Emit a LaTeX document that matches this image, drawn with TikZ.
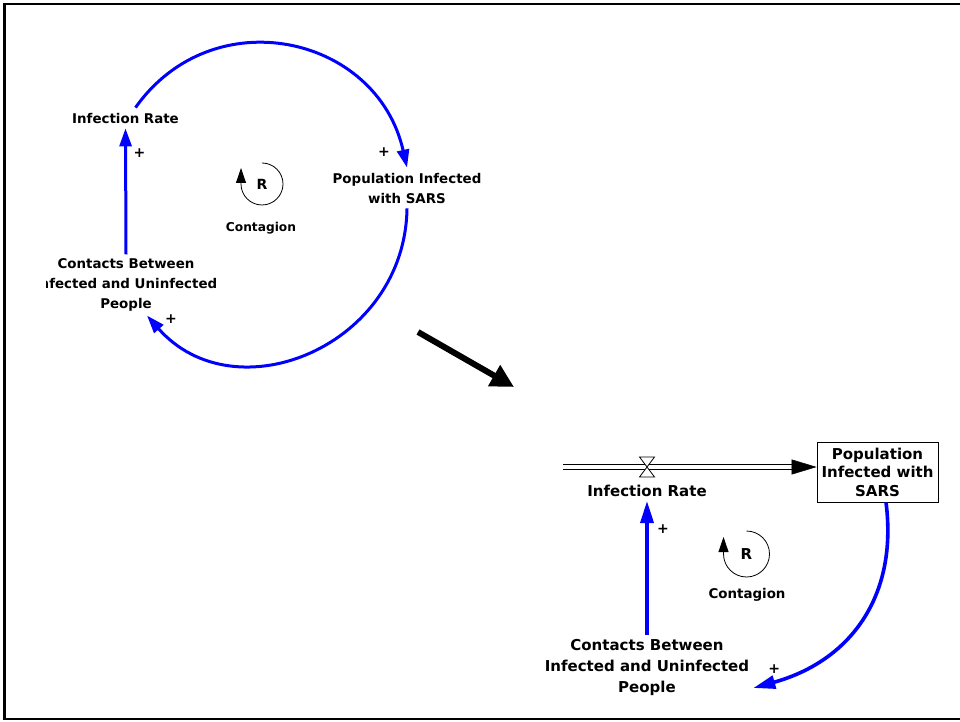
\documentclass[tikz,border=0pt]{standalone}
\usepackage{fontspec}
\setmainfont{DejaVu Sans}
\usetikzlibrary{arrows.meta}
\tikzstyle{sdVar} = [inner sep=4pt, align=center, font=\bfseries\fontsize{13.4}{20}\selectfont]
\tikzstyle{sdVarBig} = [inner sep=4pt, align=center, font=\bfseries\fontsize{15}{21}\selectfont]
\tikzstyle{sdStock} = [rectangle, draw=black, line width=0.8pt, minimum width=121pt, minimum height=60pt, inner sep=2pt, align=center, font=\bfseries\fontsize{15}{18.5}\selectfont]
\tikzstyle{sdLoopR} = [inner sep=0pt, font=\bfseries\fontsize{14}{16}\selectfont]
\tikzstyle{sdLoopName} = [inner sep=0pt, font=\bfseries\fontsize{12.2}{14}\selectfont]
\tikzstyle{sdSign} = [inner sep=0pt, text=black, font=\bfseries\fontsize{14}{14}\selectfont]
\tikzstyle{sdLink} = [blue, line width=3pt, -{Triangle[length=18pt,width=12pt]}]
\tikzstyle{sdLinkBig} = [blue, line width=3.6pt, -{Triangle[length=22pt,width=13pt]}]
\tikzstyle{sdLoop} = [black, line width=0.8pt, -{Triangle[length=15pt,width=10pt]}]
\tikzstyle{sdPipe} = [double, double distance=3.7pt, line width=1pt]
\tikzstyle{sdPipeHead} = [line width=0.5pt, -{Triangle[length=25pt,width=15pt]}]
\tikzstyle{sdValve} = [draw=black, fill=white, line width=0.8pt]
\tikzstyle{sdShift} = [line width=6pt, -{Triangle[length=23pt,width=23pt]}]

\begin{document}
\begin{tikzpicture}[x=1pt, y=1pt]
    \useasboundingbox (0,0) rectangle (960,721);
    \draw [line width=2.5pt] (962,717) -- (4.7,717) -- (4.7,2) -- (962,2);

    % causal loop diagram
    \node (infrate1) [sdVar] at (125.5,602) {Infection Rate};
    \node (popinf1) [sdVar] at (407,532) {Population Infected\\with SARS};
    \begin{scope}
        \clip (46,0) rectangle (960,721);
        \node (contacts1) [sdVar] at (126,436) {Contacts Between\\Infected and Uninfected\\People};
    \end{scope}
    \node (loopr1) [sdLoopR] at (262,537) {R};
    \node (loopname1) [sdLoopName] at (261,493) {Contagion};

    \draw [sdLink] ([xshift=10pt,yshift=2pt]infrate1.north) .. controls +(77,109) and +(-30,133) .. ([yshift=2pt]popinf1.north)
        node [sdSign, pos=1, xshift=-23pt, yshift=16pt] (sg1) {+};
    \draw [sdLink] (popinf1.south) .. controls +(-2,-138) and +(88,-100) .. ([xshift=21pt]contacts1.south)
        node [sdSign, pos=1, xshift=24pt, yshift=-4pt] (sg2) {+};
    \draw [sdLink] (contacts1.north) -- (infrate1.south)
        node [sdSign, pos=1, xshift=14pt, yshift=-25pt] (sg3) {+};
    \draw [sdLoop] (loopr1.center) ++(0,21) arc [start angle=90, end angle=-180, radius=21] -- ++(0,16);

    % arrow between the two views
    \coordinate (shiftfrom) at (418,389);
    \coordinate (shiftto) at (514,334);
    \draw [sdShift] (shiftfrom) -- (shiftto);

    % stock and flow diagram
    \node (stock) [sdStock] at (877.5,249) {Population\\Infected with\\SARS};
    \node (infrate2) [sdVarBig] at (647,230) {Infection Rate};
    \node (contacts2) [sdVarBig] at (647,53.5) {Contacts Between\\Infected and Uninfected\\People};
    \node (loopr2) [sdLoopR, font=\bfseries\fontsize{15}{17}\selectfont] at (746.5,167) {R};
    \node (loopname2) [sdLoopName, font=\bfseries\fontsize{13.4}{15}\selectfont] at (747,126) {Contagion};

    \coordinate (source) at (563,254);
    \coordinate (sink) at (source -| stock.west);
    \coordinate (valve) at (647,254);
    \draw [sdPipe] (source) -- ([xshift=-23pt]sink);
    \draw [sdPipeHead] ([xshift=-25pt]sink) -- (sink);
    \draw [sdValve] (valve) ++(-7.5,10) -- ++(15,0) -- ++(-15,-20) -- ++(15,0) -- cycle;

    \draw [sdLinkBig] (contacts2.north) -- (infrate2.south)
        node [sdSign, pos=1, xshift=16pt, yshift=-28pt] (sg4) {+};
    \draw [sdLinkBig] ([xshift=8.5pt]stock.south) .. controls +(12,-94) and +(97,27) .. ([yshift=-20.5pt]contacts2.east)
        node [sdSign, pos=1, xshift=21pt, yshift=19pt] (sg5) {+};
    \draw [sdLoop] (loopr2.center) ++(0,23) arc [start angle=90, end angle=-180, radius=23] -- ++(0,17);
\end{tikzpicture}
\end{document}
